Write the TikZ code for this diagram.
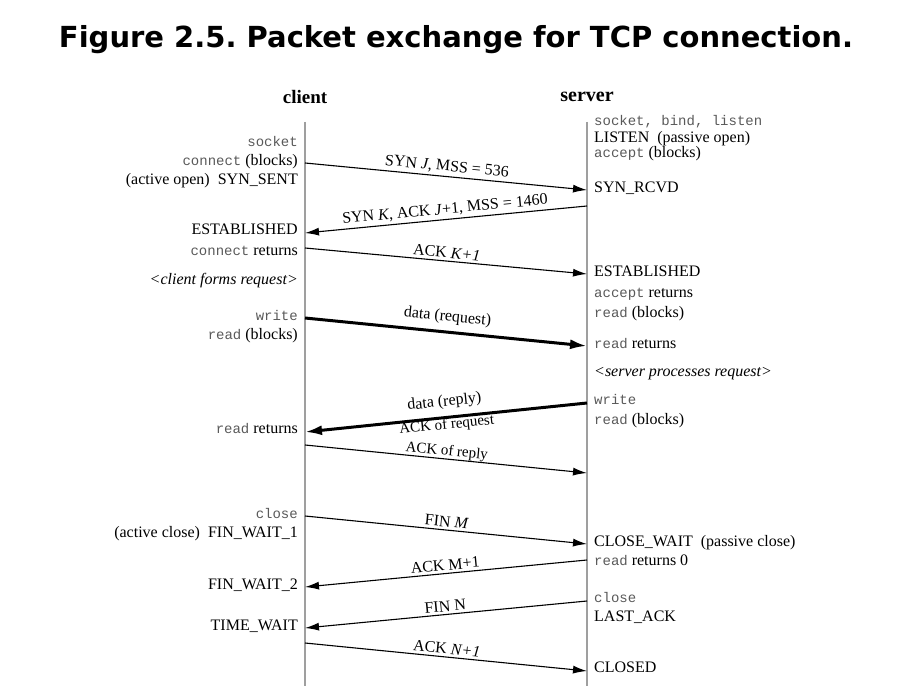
\documentclass[tikz,border=0pt]{standalone}
\usepackage{fontspec}
\setmainfont{Liberation Serif}
\setmonofont{Liberation Mono}
\newfontfamily\titlefont{DejaVu Sans}
\usetikzlibrary{arrows.meta}
\definecolor{monogray}{gray}{0.35}
\newcommand{\sysc}[1]{{\fontsize{14}{16}\ttfamily\color{monogray}#1}}

\begin{document}
\frenchspacing
\begin{tikzpicture}[x=1pt, y=-1pt,
  every node/.style={inner sep=0pt, font=\fontsize{16}{18}\selectfont},
  cl/.style={anchor=mid east},
  sv/.style={anchor=mid west},
  life/.style={gray!75, line width=1.8pt},
  msg/.style={-{Latex[length=14pt,width=8pt]}, line width=1.1pt},
  datamsg/.style={-{Latex[length=17pt,width=10pt]}, line width=3pt},
  tag/.style={sloped, above=2.5pt, inner sep=0pt}]
  \path[use as bounding box] (0,0) rectangle (909,692);

  \node (title) at (456,40) {\titlefont\bfseries\fontsize{29}{31}\selectfont
    Figure 2.5. Packet exchange for TCP connection.};
  \node (client) at (305,97) {\fontsize{19}{22}\selectfont\bfseries client};
  \node (server) at (587,97) {\fontsize{20}{22}\selectfont\bfseries server};

  % lifelines
  \coordinate (ctop) at (305,122);
  \coordinate (cbot) at (305,686);
  \coordinate (stop) at (587,122);
  \coordinate (sbot) at (587,686);
  \draw[life] (ctop) -- (cbot);
  \draw[life] (stop) -- (sbot);

  % end points of the segments
  \foreach \i/\y in {1/163, 2/233, 3/248, 4/318, 5/432,
                     6/445, 7/516, 8/587, 9/628, 10/643}
    \coordinate (c\i) at (305,\y);
  \foreach \i/\y in {1/190, 2/206, 3/274, 4/346, 5/403,
                     6/473, 7/544, 8/560, 9/601, 10/671}
    \coordinate (s\i) at (587,\y);

  % client side
  \node[cl] (csock)  at (298,144) {\sysc{socket}};
  \node[cl] (cconn)  at (298,163) {\sysc{connect} (blocks)};
  \node[cl] (csent)  at (298,182) {(active open)\enspace SYN\_SENT};
  \node[cl] (cest)   at (298,232) {ESTABLISHED};
  \node[cl] (cret)   at (298,253) {\sysc{connect} returns};
  \node[cl] (cform)  at (298,282) {\itshape <client forms request>};
  \node[cl] (cwrite) at (298,318) {\sysc{write}};
  \node[cl] (cread)  at (298,337) {\sysc{read} (blocks)};
  \node[cl] (crret)  at (298,431) {\sysc{read} returns};
  \node[cl] (cclose) at (298,516) {\sysc{close}};
  \node[cl] (cfw1)   at (298,535) {(active close)\enspace FIN\_WAIT\_1};
  \node[cl] (cfw2)   at (298,587) {FIN\_WAIT\_2};
  \node[cl] (ctw)    at (298,628) {TIME\_WAIT};

  % server side
  \node[sv] (ssock)  at (594,123) {\sysc{socket, bind, listen}};
  \node[sv] (slist)  at (594,140) {LISTEN\enspace (passive open)};
  \node[sv] (sacc)   at (594,155) {\sysc{accept} (blocks)};
  \node[sv] (srcvd)  at (594,190) {SYN\_RCVD};
  \node[sv] (sest)   at (594,274) {ESTABLISHED};
  \node[sv] (saret)  at (594,295) {\sysc{accept} returns};
  \node[sv] (sread)  at (594,315) {\sysc{read} (blocks)};
  \node[sv] (srret)  at (594,346) {\sysc{read} returns};
  \node[sv] (sproc)  at (594,374) {\itshape <server processes request>};
  \node[sv] (swrite) at (594,402) {\sysc{write}};
  \node[sv] (sread2) at (594,422) {\sysc{read} (blocks)};
  \node[sv] (scw)    at (594,544) {CLOSE\_WAIT\enspace (passive close)};
  \node[sv] (sr0)    at (594,563) {\sysc{read} returns 0};
  \node[sv] (sclose) at (594,600) {\sysc{close}};
  \node[sv] (slast)  at (594,619) {LAST\_ACK};
  \node[sv] (sclsd)  at (594,670) {CLOSED};

  % segments
  \foreach \a/\b/\t in {c1/s1/{SYN \textit{J}, MSS = 536},
                        s2/c2/{SYN \textit{K}, ACK \textit{J}+1, MSS = 1460},
                        c3/s3/{ACK \textit{K+1}},
                        c7/s7/{FIN \textit{M}},
                        s8/c8/{ACK M+1},
                        s9/c9/{FIN N},
                        c10/s10/{ACK \textit{N+1}}}
    \draw[msg] (\a) -- node[tag] (lab-\a) {\t} (\b);
  \draw[msg] (c6) -- node[tag, above=-2.5pt, font=\fontsize{15}{17}\selectfont]
    (lab-c6) {ACK of reply} (s6);
  \draw[datamsg] (c4) -- node[tag, above=3.5pt] (lab-c4) {data (request)} (s4);
  \draw[datamsg] (s5) -- node[tag, above=4pt] (lab-s5) {data (reply)}
    node[tag, below=2pt, font=\fontsize{15}{17}\selectfont] (lab-s5b) {ACK of request} (c5);
\end{tikzpicture}
\end{document}
